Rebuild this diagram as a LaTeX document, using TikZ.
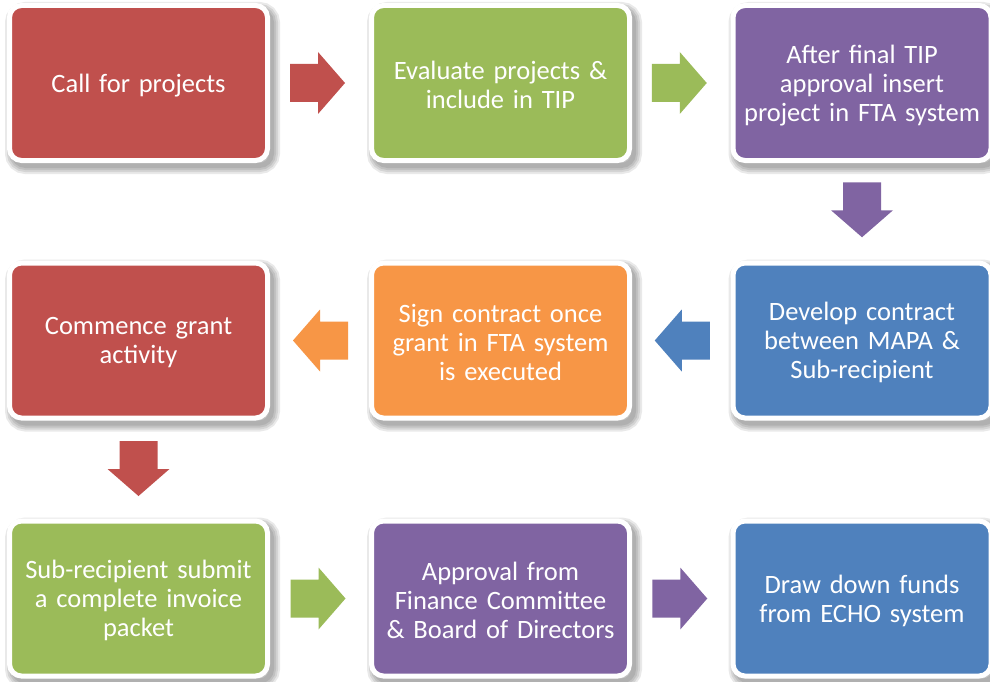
\documentclass[tikz,border=0pt]{standalone}
\usepackage{fontspec}
\setmainfont{Carlito}
\usetikzlibrary{calc}
\definecolor{cred}{HTML}{C0504D}
\definecolor{cgreen}{HTML}{9BBB59}
\definecolor{cpurple}{HTML}{8064A2}
\definecolor{cblue}{HTML}{4F81BD}
\definecolor{corange}{HTML}{F79646}
\newcommand\blockarr[3]{%
  \fill[#1, shift={(#2)}, rotate=#3] (-27.5,-19) -- (0.5,-19) -- (0.5,-31) -- (27.5,0) -- (0.5,31) -- (0.5,19) -- (-27.5,19) -- cycle;}
\tikzset{
  shlayer/.style={preaction={draw=black, line width=#1, opacity=0.085,
      transform canvas={shift={(4pt,-5pt)}}}},
  stepbox/.style={fill=#1, draw=white, line width=5pt, rounded corners=12pt,
    minimum width=258pt, minimum height=155pt, text width=245pt, align=center,
    inner sep=0pt, text=white, font=\fontsize{26.5pt}{29pt}\selectfont,
    execute at end node={\vspace*{-4.5pt}},
    shlayer=17pt, shlayer=13pt, shlayer=9pt, shlayer=5pt}
}
\begin{document}
\begin{tikzpicture}[x=1pt,y=-1pt]
\useasboundingbox (0,0) rectangle (990,682);
\fill[white] (0,0) rectangle (990,682);
\node[stepbox=cred]    (b1) at (138.5,83) {Call for projects};
\node[stepbox=cgreen]  (b2) at (500.5,83) {Evaluate projects \&\\include in TIP};
\node[stepbox=cpurple] (b3) at (862,83) {After final TIP\\approval insert\\project in FTA system};
\node[stepbox=cblue]   (b4) at (862,340.5) {Develop contract\\between MAPA \&\\Sub-recipient};
\node[stepbox=corange] (b5) at (500.5,340.5) {Sign contract once\\grant in FTA system\\is executed};
\node[stepbox=cred]    (b6) at (138.5,340.5) {Commence grant\\activity};
\node[stepbox=cgreen]  (b7) at (138.5,598.5) {Sub-recipient submit\\a complete invoice\\packet};
\node[stepbox=cpurple] (b8) at (500.5,598.5) {Approval from\\Finance Committee\\\& Board of Directors};
\node[stepbox=cblue]   (b9) at (862,598.5) {Draw down funds\\from ECHO system};
\blockarr{cred}{$(b1.east)!0.5!(b2.west)+(-2,0)$}{0}
\blockarr{cgreen}{$(b2.east)!0.5!(b3.west)+(-2,0)$}{0}
\blockarr{cpurple}{$(b3.south)!0.5!(b4.north)+(0,-2)$}{-90}
\blockarr{cblue}{$(b4.west)!0.5!(b5.east)+(1,0)$}{180}
\blockarr{corange}{$(b5.west)!0.5!(b6.east)+(1,0)$}{180}
\blockarr{cred}{$(b6.south)!0.5!(b7.north)+(0,-1)$}{-90}
\blockarr{cgreen}{$(b7.east)!0.5!(b8.west)+(-1.5,0)$}{0}
\blockarr{cpurple}{$(b8.east)!0.5!(b9.west)+(-1.5,0)$}{0}
\end{tikzpicture}
\end{document}
